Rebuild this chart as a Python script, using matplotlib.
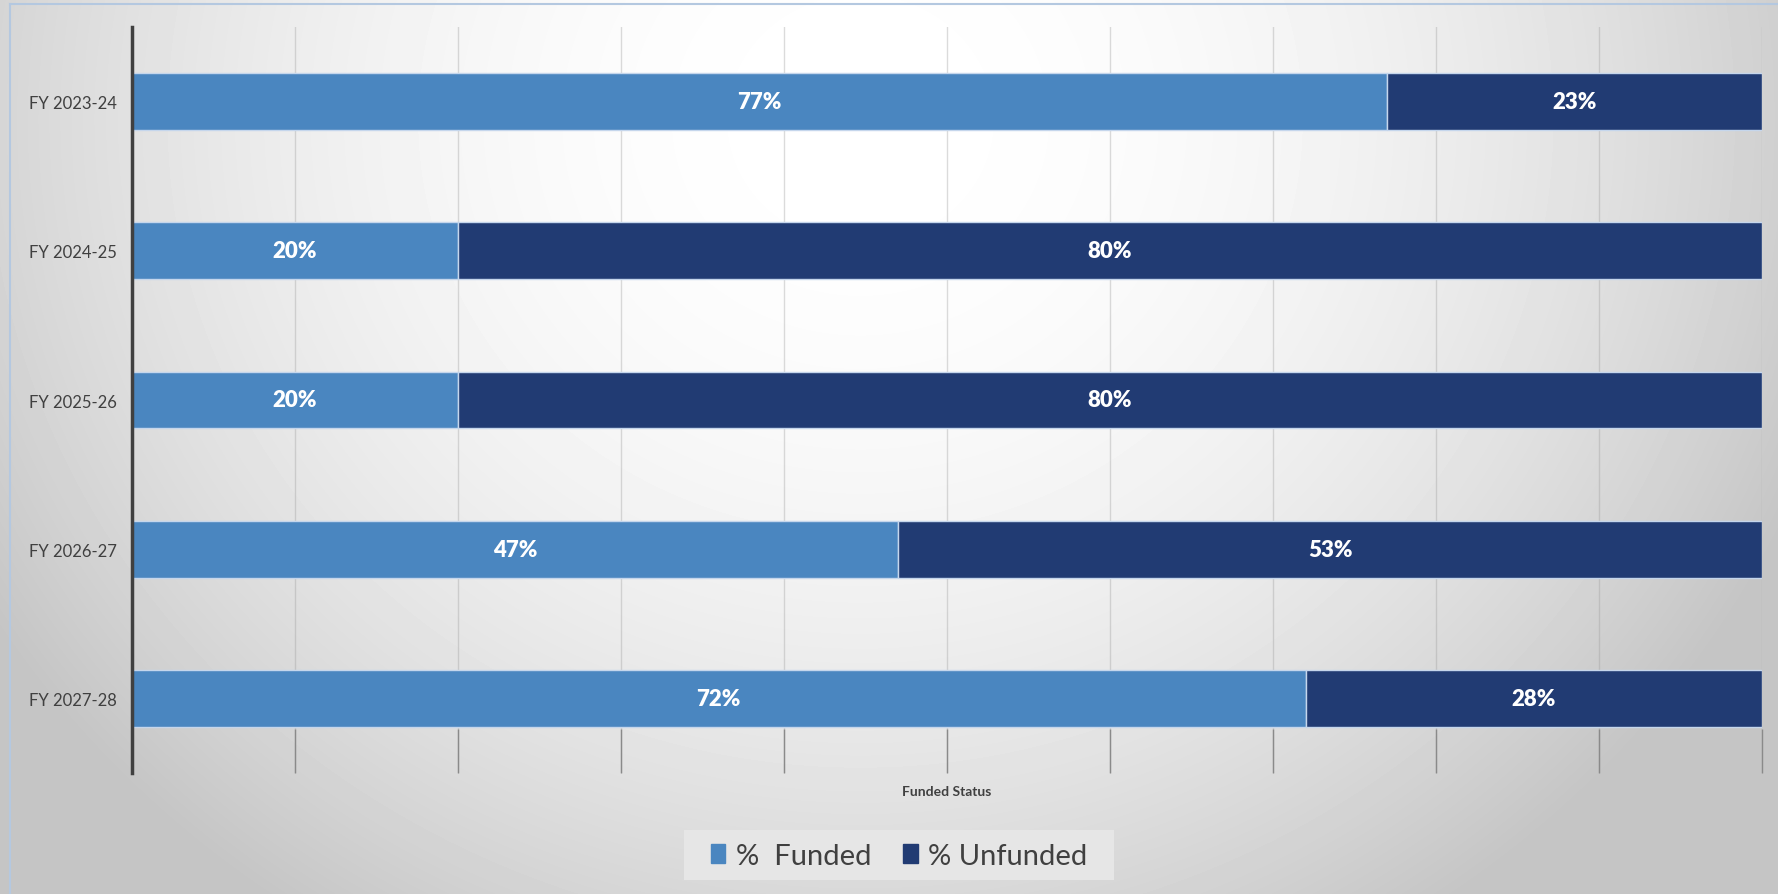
import numpy as np
import matplotlib.pyplot as plt
from matplotlib.patches import Patch, Rectangle
from matplotlib.lines import Line2D

plt.rcParams['font.family'] = ['Lato', 'DejaVu Sans']

# data
years = ["FY 2023-24", "FY 2024-25", "FY 2025-26", "FY 2026-27", "FY 2027-28"]
funded = [77, 20, 20, 47, 72]
unfunded = [23, 80, 80, 53, 28]

c_funded = "#4a86c0"
c_unfunded = "#213b73"
W, H = 1778, 895

fig = plt.figure(figsize=(W / 100, H / 100), dpi=100)

# radial grey background, lightest near the top middle
bg = fig.add_axes([0, 0, 1, 1], zorder=-10)
yy, xx = np.mgrid[0:H, 0:W]
d2 = ((xx - 860) / 930.0) ** 2 + ((yy - 120) / 870.0) ** 2
shade = np.clip(1.0 - 0.19 * d2, 0.77, 1.0)
bg.imshow(shade, cmap="gray", vmin=0, vmax=1, aspect="auto", interpolation="bilinear")
bg.axis("off")

# light blue frame on top / left
fig.add_artist(Line2D([10 / W, 10 / W], [0, 1 - 5 / H], transform=fig.transFigure,
                      color="#b4c8e0", lw=1.5))
fig.add_artist(Line2D([10 / W, 1], [1 - 5 / H, 1 - 5 / H], transform=fig.transFigure,
                      color="#b4c8e0", lw=1.5))

ax = fig.add_axes([132 / W, 1 - 774 / H, 1630 / W, 746 / H])
ax.set_facecolor("none")

y = np.arange(len(years))
b1 = ax.barh(y, funded, height=0.38, color=c_funded, edgecolor="#c5d6ec", lw=1, zorder=2)
b2 = ax.barh(y, unfunded, left=funded, height=0.38, color=c_unfunded, edgecolor="#c5d6ec",
             lw=1, zorder=2)

for cont, vals in ((b1, funded), (b2, unfunded)):
    ax.bar_label(cont, labels=[f"{v}%" for v in vals], label_type="center",
                 color="white", fontsize=16, fontweight="heavy", zorder=4)

ax.set_xlim(0, 100)
ax.set_ylim(len(years) - 0.5, -0.5)
ax.set_yticks(y)
ax.set_yticklabels(years, fontsize=12, color="#404040")
ax.set_xticks(np.arange(0, 101, 10))
ax.set_xticklabels([])
ax.tick_params(axis="y", length=0, pad=11)
ax.tick_params(axis="x", direction="in", length=32, width=1, color="#8a8a8a")
ax.grid(axis="x", color="#9a9a9a", lw=1, alpha=0.35, zorder=3)

for s in ("top", "right", "bottom"):
    ax.spines[s].set_visible(False)
ax.spines["left"].set_color("#404040")
ax.spines["left"].set_linewidth(2.5)
ax.spines["left"].set_zorder(5)

ax.set_xlabel("Funded Status", fontsize=10, fontweight="bold", color="#404040")
ax.xaxis.set_label_coords(0.5, -0.016)
ax.xaxis.label.set_va("top")

# legend box (drawn separately so it can be wider than the entries)
fig.add_artist(Rectangle((684 / W, 1 - 881 / H), 430 / W, 50 / H, transform=fig.transFigure,
                         facecolor="#e6e6e6", edgecolor="none", zorder=1))
handles = [Patch(color=c_funded, label="%  Funded"), Patch(color=c_unfunded, label="% Unfunded")]
leg = fig.legend(handles=handles, loc="center", bbox_to_anchor=(899 / W, 1 - 857 / H), ncol=2,
                 fontsize=21, frameon=False, handlelength=0.5, handleheight=0.6,
                 handletextpad=0.35, columnspacing=1.1, labelcolor="#404040")
leg.set_zorder(2)

fig.savefig("out.png", dpi=100)
